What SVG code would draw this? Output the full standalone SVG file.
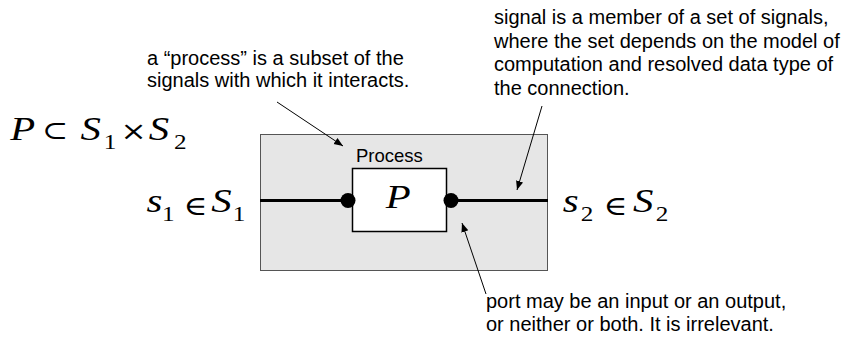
<svg xmlns="http://www.w3.org/2000/svg" width="868" height="341" viewBox="0 0 868 341">
<style>
.note{font-family:"Liberation Sans",Arial,sans-serif;font-size:20px;fill:#000}
.lbl{font-family:"Liberation Sans",Arial,sans-serif;font-size:18.5px;fill:#000}
.math{font-family:"Liberation Serif","Times New Roman",serif;font-style:italic;font-size:34px;fill:#000}
.op{font-family:"DejaVu Serif","Liberation Serif",serif;font-style:normal;font-size:26px;fill:#000}
.el{font-size:27px}
.sub{font-family:"Liberation Serif","Times New Roman",serif;font-style:normal;font-size:21px;fill:#000}
.thin{stroke:#000;stroke-width:1;fill:none}
.wire{stroke:#000;stroke-width:3;fill:none}
</style>
<defs>
<marker id="ah" viewBox="0 0 10 10" refX="10" refY="5" markerWidth="9" markerHeight="9" markerUnits="userSpaceOnUse" orient="auto">
<path d="M0,1 L10,5 L0,9 z" fill="#000"/>
</marker>
</defs>
<rect width="868" height="341" fill="#fff"/>
<g id="container">
<rect x="260.5" y="134.5" width="287" height="136" fill="#e6e6e6" stroke="#555" stroke-width="1"/>
</g>
<g id="connectors">
<line class="wire" x1="260" y1="200.5" x2="348" y2="200.5"/>
<line class="wire" x1="451" y1="200.5" x2="548" y2="200.5"/>
<line class="thin" x1="277" y1="102" x2="343" y2="146" marker-end="url(#ah)"/>
<line class="thin" x1="542" y1="106" x2="517" y2="190" marker-end="url(#ah)"/>
<line class="thin" x1="486" y1="294" x2="462" y2="223" marker-end="url(#ah)"/>
</g>
<g id="process">
<rect x="352.5" y="168.5" width="94" height="63" fill="#fff" stroke="#000" stroke-width="1.5"/>
<text class="lbl" x="356" y="162">Process</text>
<g transform="scale(1.2,1)"><text class="math" x="321.5" y="208">P</text></g>
</g>
<g id="port-in"><circle cx="348" cy="200.5" r="7.5" fill="#000"/></g>
<g id="port-out"><circle cx="451" cy="200.5" r="7.5" fill="#000"/></g>
<g id="formula-relation" transform="scale(1.2,1)">
<text class="math" x="8.5" y="140">P</text>
<text class="op" x="35" y="139">⊂</text>
<text class="math" x="67" y="140">S</text>
<text class="sub" x="86.5" y="149">1</text>
<text class="op" x="100.5" y="140">×</text>
<text class="math" x="124" y="140">S</text>
<text class="sub" x="145" y="149">2</text>
</g>
<g id="formula-s1" transform="scale(1.2,1)">
<text class="math" x="122" y="212">s</text>
<text class="sub" x="135" y="221">1</text>
<text class="op el" x="153" y="215">∈</text>
<text class="math" x="176" y="212">S</text>
<text class="sub" x="194" y="221">1</text>
</g>
<g id="formula-s2" transform="scale(1.2,1)">
<text class="math" x="469" y="212">s</text>
<text class="sub" x="484" y="221">2</text>
<text class="op el" x="503" y="215">∈</text>
<text class="math" x="527.5" y="212">S</text>
<text class="sub" x="546.5" y="221">2</text>
</g>
<g id="note-process">
<text class="note" x="147" y="65">a “process” is a subset of the</text>
<text class="note" x="147" y="87">signals with which it interacts.</text>
</g>
<g id="note-signal">
<text class="note" x="494" y="24">signal is a member of a set of signals,</text>
<text class="note" x="494" y="48">where the set depends on the model of</text>
<text class="note" x="494" y="71">computation and resolved data type of</text>
<text class="note" x="494" y="95">the connection.</text>
</g>
<g id="note-port">
<text class="note" x="486" y="308">port may be an input or an output,</text>
<text class="note" x="486" y="331">or neither or both. It is irrelevant.</text>
</g>
</svg>
